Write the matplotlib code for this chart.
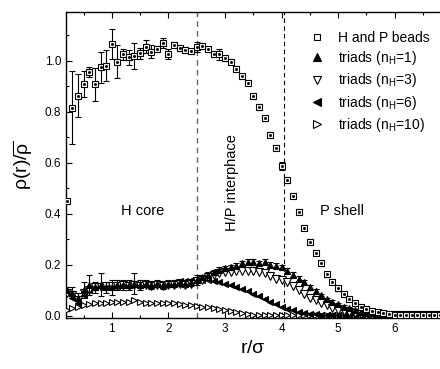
import numpy as np
import matplotlib
matplotlib.use("Agg")
import matplotlib.pyplot as plt
from matplotlib.lines import Line2D

plt.rcParams['font.family'] = ['Liberation Sans', 'DejaVu Sans']
plt.rcParams['mathtext.fontset'] = 'custom'
plt.rcParams['mathtext.rm'] = 'Liberation Sans'
plt.rcParams['mathtext.it'] = 'Liberation Sans'
plt.rcParams['mathtext.bf'] = 'Liberation Sans:bold'

# ---- data: H and P beads ----
r_beads = [0.2, 0.3, 0.4, 0.5, 0.6, 0.7, 0.8, 0.9, 1.0, 1.1, 1.2, 1.3, 1.4, 1.5, 1.6, 1.7,
           1.8, 1.9, 2.0, 2.1, 2.2, 2.3, 2.4, 2.5, 2.6, 2.7, 2.8, 2.9, 3.0, 3.1, 3.2, 3.3,
           3.4, 3.5, 3.6, 3.7, 3.8, 3.9, 4.0, 4.1, 4.2, 4.3, 4.4, 4.5, 4.6, 4.7, 4.8, 4.9,
           5.0, 5.1, 5.2, 5.3, 5.4, 5.5, 5.6, 5.7, 5.8, 5.9, 6.0, 6.1, 6.2, 6.3, 6.4, 6.5,
           6.6, 6.7, 6.8]
rho_beads = [0.45, 0.816, 0.862, 0.908, 0.956, 0.907, 0.973, 0.980, 1.065, 0.995, 1.024, 1.013,
             1.018, 1.028, 1.054, 1.035, 1.046, 1.069, 1.025, 1.062, 1.048, 1.041, 1.037, 1.054,
             1.056, 1.044, 1.024, 1.024, 1.010, 0.996, 0.968, 0.939, 0.913, 0.860, 0.818, 0.773,
             0.709, 0.658, 0.587, 0.530, 0.470, 0.407, 0.344, 0.289, 0.246, 0.205, 0.162, 0.133,
             0.107, 0.083, 0.063, 0.048, 0.035, 0.024, 0.018, 0.012, 0.008, 0.006, 0.004, 0.003,
             0.003, 0.002, 0.002, 0.002, 0.002, 0.002, 0.002]
err_beads = [0.0, 0.145, 0.085, 0.05, 0.02, 0.065, 0.06, 0.06, 0.06, 0.065, 0.02, 0.03,
             0.05, 0.02, 0.025, 0.025, 0.01, 0.02, 0.02, 0.01, 0.01, 0.01, 0.01, 0.02,
             0.01, 0.01, 0.01, 0.02, 0.01, 0.01, 0.01, 0.01, 0.01, 0.01, 0.01, 0.01,
             0.01, 0.01, 0.015, 0.01, 0.01, 0.01, 0.01, 0.01, 0.01, 0.01, 0.01, 0.01,
             0.01, 0.01, 0.005, 0.005, 0.005, 0.005, 0.005, 0.005, 0.005, 0.005, 0.005, 0.0,
             0.0, 0.0, 0.0, 0.0, 0.0, 0.0, 0.0]

# ---- data: triads ----
r_triads = [0.2, 0.3, 0.4, 0.5, 0.6, 0.7, 0.8, 0.9, 1.0, 1.1, 1.2, 1.3, 1.4, 1.5, 1.6, 1.7,
            1.8, 1.9, 2.0, 2.1, 2.2, 2.3, 2.4, 2.5, 2.6, 2.7, 2.8, 2.9, 3.0, 3.1, 3.2, 3.3,
            3.4, 3.5, 3.6, 3.7, 3.8, 3.9, 4.0, 4.1, 4.2, 4.3, 4.4, 4.5, 4.6, 4.7, 4.8, 4.9,
            5.0, 5.1, 5.2, 5.3, 5.4, 5.5, 5.6, 5.7, 5.8, 5.9, 6.0, 6.1, 6.2, 6.3, 6.4, 6.5,
            6.6, 6.7, 6.8]
rho_nH1 = [0.100, 0.090, 0.070, 0.100, 0.120, 0.110, 0.120, 0.110, 0.110, 0.120, 0.120, 0.120,
           0.125, 0.120, 0.125, 0.120, 0.125, 0.120, 0.125, 0.125, 0.130, 0.125, 0.130, 0.140,
           0.150, 0.160, 0.170, 0.180, 0.185, 0.190, 0.195, 0.205, 0.210, 0.210, 0.205, 0.210,
           0.200, 0.195, 0.190, 0.175, 0.160, 0.145, 0.130, 0.110, 0.095, 0.080, 0.065, 0.055,
           0.045, 0.035, 0.028, 0.020, 0.015, 0.010, 0.008, 0.006, 0.004, 0.003, 0.002, 0.002,
           0.002, 0.002, 0.002, 0.002, 0.002, 0.002, 0.002]
err_nH1 = [0.01, 0.02, 0.02, 0.03, 0.04, 0.02, 0.045, 0.02, 0.03, 0.02, 0.02, 0.02,
           0.04, 0.02, 0.015, 0.015, 0.015, 0.015, 0.015, 0.015, 0.015, 0.015, 0.015, 0.02,
           0.01, 0.01, 0.01, 0.01, 0.01, 0.01, 0.01, 0.01, 0.01, 0.01, 0.01, 0.01,
           0.01, 0.01, 0.01, 0.01, 0.01, 0.01, 0.01, 0.01, 0.01, 0.005, 0.005, 0.005,
           0.005, 0.005, 0.005, 0.005, 0.0, 0.0, 0.0, 0.0, 0.0, 0.0, 0.0, 0.0,
           0.0, 0.0, 0.0, 0.0, 0.0, 0.0, 0.0]
rho_nH3 = [0.090, 0.080, 0.060, 0.090, 0.100, 0.110, 0.110, 0.115, 0.115, 0.115, 0.120, 0.115,
           0.120, 0.115, 0.120, 0.115, 0.120, 0.115, 0.120, 0.120, 0.125, 0.120, 0.125, 0.135,
           0.140, 0.150, 0.160, 0.165, 0.170, 0.170, 0.175, 0.175, 0.175, 0.175, 0.170, 0.165,
           0.155, 0.145, 0.140, 0.130, 0.115, 0.100, 0.085, 0.070, 0.060, 0.050, 0.040, 0.030,
           0.022, 0.016, 0.012, 0.008, 0.005, 0.004, 0.003, 0.002, 0.002, 0.002, 0.002, 0.002,
           0.002, 0.002, 0.002, 0.002, 0.002, 0.002, 0.002]
rho_nH6 = [0.090, 0.070, 0.050, 0.080, 0.100, 0.110, 0.110, 0.115, 0.120, 0.115, 0.120, 0.120,
           0.125, 0.120, 0.125, 0.120, 0.125, 0.125, 0.125, 0.130, 0.135, 0.135, 0.140, 0.140,
           0.140, 0.140, 0.135, 0.130, 0.125, 0.120, 0.110, 0.105, 0.095, 0.085, 0.075, 0.065,
           0.055, 0.045, 0.035, 0.027, 0.020, 0.014, 0.010, 0.007, 0.005, 0.003, 0.003, 0.002,
           0.002, 0.002, 0.002, 0.002, 0.002, 0.002, 0.002, 0.002, 0.002, 0.002, 0.002, 0.002,
           0.002, 0.002, 0.002, 0.002, 0.002, 0.002, 0.002]
rho_nH10 = [0.020, 0.030, 0.035, 0.040, 0.045, 0.050, 0.050, 0.050, 0.055, 0.055, 0.055, 0.055,
            0.060, 0.055, 0.050, 0.050, 0.050, 0.050, 0.050, 0.048, 0.045, 0.042, 0.040, 0.037,
            0.035, 0.033, 0.030, 0.027, 0.023, 0.018, 0.013, 0.009, 0.006, 0.004, 0.003, 0.002,
            0.002, 0.002, 0.002, 0.002, 0.002, 0.002, 0.002, 0.002, 0.002, 0.002, 0.002, 0.002,
            0.002, 0.002, 0.002, 0.002, 0.002, 0.002, 0.002, 0.002, 0.002, 0.002, 0.002, 0.002,
            0.002, 0.002, 0.002, 0.002, 0.002, 0.002, 0.002]

legend_labels = ['H and P beads', 'triads (n$_\\mathrm{H}$=1)', 'triads (n$_\\mathrm{H}$=3)',
                 'triads (n$_\\mathrm{H}$=6)', 'triads (n$_\\mathrm{H}$=10)']

core_edge = 2.5
shell_edge = 4.04

fig = plt.figure(figsize=(4.4, 3.69), dpi=100)
ax = fig.add_axes([0.15, 0.138, 0.85, 0.829])

ms = 5
ax.plot(r_triads, rho_nH10, ls='none', marker='>', ms=ms, mfc='white', mec='black', mew=0.8, zorder=3)
ax.plot(r_triads, rho_nH6, ls='none', marker='<', ms=ms, mfc='black', mec='black', mew=0.8, zorder=3)
ax.plot(r_triads, rho_nH3, ls='none', marker='v', ms=ms + 0.5, mfc='white', mec='black', mew=0.8, zorder=4)
ax.errorbar(r_triads, rho_nH1, yerr=err_nH1, fmt='^', ms=ms, mfc='black', mec='black', mew=0.8,
            ecolor='black', elinewidth=0.8, capsize=2.5, capthick=0.8, zorder=5)

ax.errorbar(r_beads, rho_beads, yerr=err_beads, fmt='s', ms=5, mfc='white', mec='black', mew=0.8,
            ecolor='black', elinewidth=0.8, capsize=2.5, capthick=0.8, zorder=6)
ax.plot(r_beads, rho_beads, ls='none', marker='s', ms=1.0, color='black', zorder=7)

ax.axvline(core_edge, color='#666666', lw=1.0, ls=(0, (4, 3)), zorder=2)
ax.axvline(shell_edge, color='black', lw=0.8, ls=(0, (4, 3)), zorder=2)

ax.text(1.55, 0.41, 'H core', fontsize=10.5, ha='center', va='center')
ax.text(3.12, 0.52, 'H/P interphace', fontsize=10.5, ha='center', va='center', rotation=90)
ax.text(5.07, 0.41, 'P shell', fontsize=10.5, ha='center', va='center')

ax.set_xlim(0.19, 6.8)
ax.set_ylim(-0.01, 1.19)
ax.set_xticks([1, 2, 3, 4, 5, 6])
ax.set_xticks(np.arange(0.5, 6.8, 0.5), minor=True)
ax.set_yticks([0.0, 0.2, 0.4, 0.6, 0.8, 1.0])
ax.set_yticks(np.arange(0.1, 1.15, 0.1), minor=True)
ax.set_yticklabels(['0.0', '0.2', '0.4', '0.6', '0.8', '1.0'])
ax.tick_params(which='both', direction='in', top=True, right=False, labelsize=8.5, width=0.8)
ax.tick_params(which='major', length=4)
ax.tick_params(which='minor', length=2.5)
ax.spines['right'].set_visible(False)
for s in ['left', 'top', 'bottom']:
    ax.spines[s].set_linewidth(1.0)

ax.set_xlabel(r'r/$\sigma$', fontsize=14, labelpad=4)
ax.set_ylabel(r'$\rho$(r)/$\overline{\rho}$', fontsize=14, labelpad=7)

handles = [
    Line2D([], [], ls='none', marker='s', ms=5, mfc='white', mec='black', mew=0.8),
    Line2D([], [], ls='none', marker='^', ms=5.5, mfc='black', mec='black', mew=0.8),
    Line2D([], [], ls='none', marker='v', ms=5.5, mfc='white', mec='black', mew=0.8),
    Line2D([], [], ls='none', marker='<', ms=5.5, mfc='black', mec='black', mew=0.8),
    Line2D([], [], ls='none', marker='>', ms=5.5, mfc='white', mec='black', mew=0.8),
]
leg = ax.legend(handles, legend_labels,
                loc='upper left', bbox_to_anchor=(0.635, 0.958), frameon=False,
                fontsize=10, handlelength=1.2, handletextpad=0.9, labelspacing=0.32,
                borderaxespad=0.0)

fig.savefig('out.png', dpi=100)
